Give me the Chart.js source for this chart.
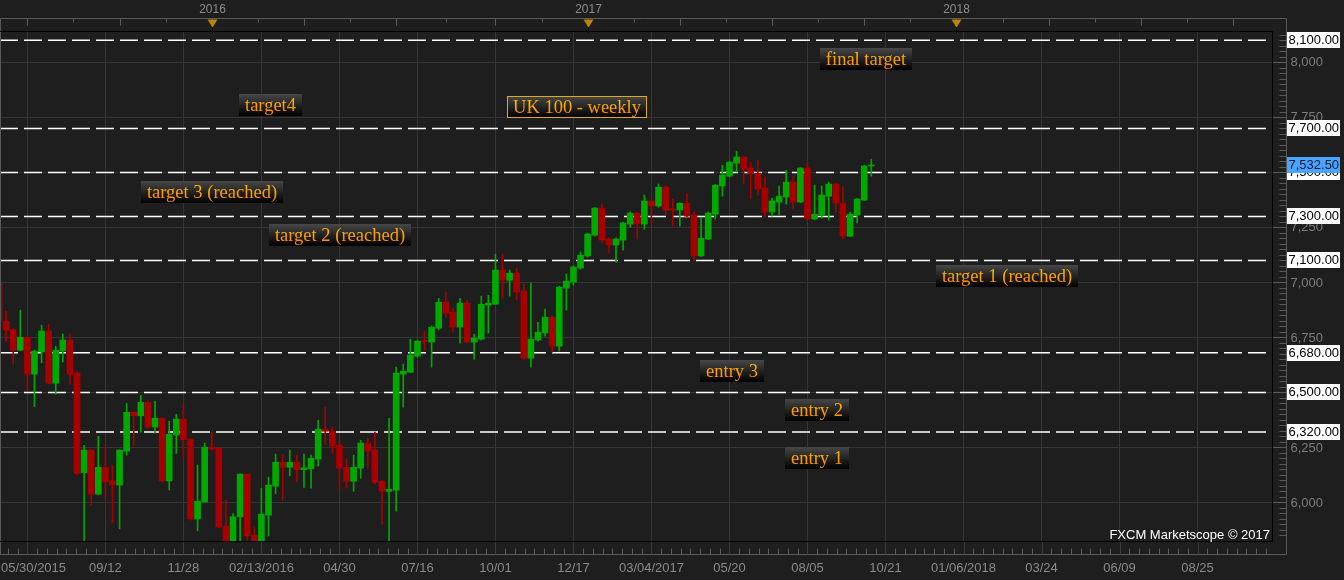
<!DOCTYPE html>
<html>
<head>
<meta charset="utf-8">
<title>UK 100 - weekly</title>
<script src="https://cdn.jsdelivr.net/npm/chart.js@4.4.0/dist/chart.umd.min.js"></script>
<style>
  html, body { margin: 0; padding: 0; background: #1e1e1e; }
  canvas { display: block; }
</style>
</head>
<body>
<canvas id="ukChart" width="1344" height="580"></canvas>
<script>
// weekly candles, week 0 = 05/30/2015
const openVals = [
  6995, 6824, 6786, 6692, 6751, 6583, 6684, 6779, 6542, 6689,
  6738, 6589, 6135, 6238, 6038, 6160, 6097, 6079, 6233, 6410,
  6394, 6455, 6343, 6383, 6098, 6307, 6379, 6288, 5925, 6003,
  6251, 6247, 5893, 5800, 5935, 6129, 5851, 5707, 5942, 6074,
  6183, 6160, 6183, 6149, 6153, 6197, 6333, 6324, 6260, 6160,
  6097, 6156, 6270, 6238, 6097, 6051, 6056, 6583, 6592, 6665,
  6735, 6729, 6792, 6910, 6865, 6797, 6906, 6729, 6742, 6897,
  6901, 7056, 7010, 7042, 6960, 6656, 6738, 6770, 6842, 6710,
  6974, 7001, 7065, 7120, 7215, 7338, 7197, 7170, 7192, 7265,
  7315, 7265, 7370, 7347, 7433, 7333, 7329, 7360, 7306, 7120,
  7197, 7310, 7438, 7483, 7542, 7570, 7520, 7497, 7429, 7320,
  7365, 7388, 7456, 7365, 7520, 7288, 7306, 7392, 7447, 7360,
  7210, 7306, 7374, 7529
];
const highVals = [
  7010, 6869, 6790, 6874, 6755, 6692, 6806, 6810, 6710, 6765,
  6765, 6595, 6260, 6242, 6301, 6260, 6170, 6240, 6451, 6412,
  6487, 6462, 6460, 6385, 6369, 6401, 6447, 6290, 6170, 6270,
  6320, 6250, 6010, 5950, 6130, 6130, 5888, 6065, 6115, 6220,
  6215, 6238, 6215, 6220, 6215, 6374, 6433, 6342, 6283, 6197,
  6215, 6283, 6292, 6320, 6100, 6383, 6615, 6629, 6742, 6738,
  6779, 6802, 6928, 6956, 6883, 6928, 6920, 6765, 6938, 6942,
  7129, 7129, 7056, 7065, 6992, 6997, 6819, 6879, 6847, 6982,
  7038, 7075, 7138, 7224, 7340, 7356, 7201, 7201, 7274, 7320,
  7320, 7397, 7372, 7447, 7438, 7379, 7362, 7406, 7320, 7297,
  7320, 7445, 7533, 7551, 7597, 7572, 7547, 7556, 7479, 7383,
  7438, 7510, 7483, 7522, 7547, 7442, 7438, 7456, 7450, 7433,
  7320, 7381, 7533, 7560
];
const lowVals = [
  6815, 6730, 6629, 6690, 6507, 6435, 6635, 6540, 6492, 6639,
  6538, 6125, 5770, 5988, 6035, 6021, 5907, 5880, 6215, 6260,
  6320, 6338, 6315, 6094, 6057, 6223, 6202, 5920, 5871, 6000,
  6238, 5885, 5770, 5660, 5790, 5790, 5500, 5700, 5848, 6039,
  6012, 6121, 6094, 6069, 6065, 6165, 6265, 6224, 6056, 6065,
  6051, 6110, 6156, 6083, 5901, 5790, 5960, 6433, 6590, 6660,
  6692, 6615, 6785, 6842, 6774, 6724, 6725, 6651, 6738, 6770,
  6900, 6929, 6938, 6920, 6650, 6615, 6733, 6756, 6683, 6688,
  6874, 6988, 7060, 7115, 7210, 7179, 7133, 7092, 7147, 7251,
  7197, 7242, 7265, 7342, 7306, 7256, 7256, 7299, 7097, 7118,
  7195, 7288, 7392, 7479, 7501, 7447, 7379, 7397, 7297, 7301,
  7306, 7356, 7333, 7362, 7285, 7285, 7292, 7283, 7320, 7197,
  7208, 7270, 7372, 7483
];
const closeVals = [
  6821, 6783, 6692, 6751, 6583, 6688, 6779, 6542, 6692, 6738,
  6583, 6132, 6238, 6038, 6160, 6094, 6079, 6238, 6410, 6394,
  6455, 6343, 6383, 6098, 6310, 6379, 6285, 5925, 6006, 6251,
  6242, 5889, 5804, 5935, 6129, 5848, 5707, 5947, 6079, 6183,
  6160, 6183, 6149, 6158, 6201, 6333, 6324, 6256, 6156, 6097,
  6160, 6270, 6233, 6092, 6051, 6060, 6588, 6597, 6670, 6733,
  6731, 6797, 6910, 6860, 6797, 6906, 6729, 6747, 6901, 6906,
  7056, 7010, 7042, 6956, 6656, 6742, 6774, 6842, 6710, 6979,
  7006, 7070, 7124, 7220, 7338, 7192, 7170, 7197, 7270, 7315,
  7265, 7370, 7348, 7433, 7329, 7329, 7360, 7301, 7120, 7201,
  7315, 7442, 7488, 7547, 7570, 7515, 7497, 7424, 7320, 7370,
  7392, 7456, 7365, 7520, 7288, 7310, 7397, 7447, 7360, 7210,
  7310, 7379, 7529, 7532.5
];

// horizontal target / entry levels
const levelVals = [8100, 7700, 7500, 7300, 7100, 6680, 6500, 6320];
const lastPrice = 7532.5;

// text notes, anchored at [week, price]
const noteTexts = ['target4', 'target 3 (reached)', 'target 2 (reached)', 'final target',
  'target 1 (reached)', 'entry 3', 'entry 2', 'entry 1'];
const noteWeeks = [38.3, 30.0, 48.1, 122.3, 142.2, 103.4, 115.4, 115.4];
const noteVals = [7806, 7410, 7215, 8015, 7029, 6597, 6420, 6202];
const titleText = 'UK 100 - weekly';
const titleWeek = 81.5;
const titleVal = 7799;

// axes
const xTickWeeks = [0, 15, 26, 37, 48, 59, 70, 81, 92, 103, 114, 125, 136, 147, 158, 169];
const xTickLabels = ['05/30/2015', '09/12', '11/28', '02/13/2016', '04/30', '07/16', '10/01', '12/17',
  '03/04/2017', '05/20', '08/05', '10/21', '01/06/2018', '03/24', '06/09', '08/25'];
const xGridWeeks = [4, 15, 26, 37, 48, 59, 70, 81, 92, 103, 114, 125, 136, 147, 158, 169];
const yTickVals = [6000, 6250, 6500, 6750, 7000, 7250, 7500, 7750, 8000];
const yTickLabels = ['6,000', '6,250', '6,500', '6,750', '7,000', '7,250', '7,500', '7,750', '8,000'];
const yearLabels = ['2016', '2017', '2018'];
const yearWeeks = [30, 83, 135];
const quarterWeeks = [4, 17, 30, 43, 56, 70, 83, 96, 109, 122, 135, 148, 161, 174];

const xMin = 0.14, xMax = 179.5, yMin = 5825, yMax = 8138;
const upColor = '#00a800', downColor = '#a80000';

const candleColor = ctx => closeVals[ctx.dataIndex] >= openVals[ctx.dataIndex] ? upColor : downColor;
const fmt = v => v.toLocaleString('en-US', { minimumFractionDigits: 2, maximumFractionDigits: 2 });

const decor = {
  id: 'decor',
  beforeDraw(chart) {
    const ctx = chart.ctx;
    ctx.save();
    ctx.fillStyle = '#1e1e1e';
    ctx.fillRect(0, 0, chart.width, chart.height);
    ctx.restore();
  },
  afterDatasetsDraw(chart) {
    const ctx = chart.ctx, xs = chart.scales.x, ys = chart.scales.y;
    ctx.save();
    ctx.font = '18.5px "Liberation Serif"';
    ctx.textAlign = 'center';
    ctx.textBaseline = 'middle';
    const drawNote = (t, wk, val, framed) => {
      const cx = xs.getPixelForValue(wk), cy = ys.getPixelForValue(val);
      const w = Math.round(ctx.measureText(t).width + 12), h = 22;
      const left = Math.round(cx - w / 2), top = Math.round(cy - h / 2);
      const g = ctx.createLinearGradient(0, top, 0, top + h);
      g.addColorStop(0, '#474747');
      g.addColorStop(1, '#000000');
      ctx.fillStyle = g;
      ctx.fillRect(left, top, w, h);
      if (framed) {
        ctx.strokeStyle = '#e0a820';
        ctx.lineWidth = 1;
        ctx.strokeRect(left + 0.5, top + 0.5, w - 1, h - 1);
      }
      const tg = ctx.createLinearGradient(0, top + 4, 0, top + h - 4);
      tg.addColorStop(0, '#ffb800');
      tg.addColorStop(1, '#ff8800');
      ctx.fillStyle = tg;
      ctx.fillText(t, left + w / 2, top + h / 2 + 1);
    };
    noteTexts.forEach((t, k) => drawNote(t, noteWeeks[k], noteVals[k], false));
    drawNote(titleText, titleWeek, titleVal, true);
    ctx.restore();
  },
  afterDraw(chart) {
    const ctx = chart.ctx, xs = chart.scales.x, ys = chart.scales.y;
    const a = chart.chartArea;
    const frameR = a.right + 14.5, frameT = 18.5, frameB = a.bottom + 13.5;
    ctx.save();

    // outer axis frame
    ctx.strokeStyle = '#5a5a5a';
    ctx.lineWidth = 1;
    ctx.beginPath();
    ctx.moveTo(0.5, frameB); ctx.lineTo(0.5, frameT); ctx.lineTo(frameR, frameT);
    ctx.lineTo(frameR, frameB); ctx.lineTo(0, frameB);
    ctx.stroke();

    // plot border
    ctx.strokeStyle = '#000000';
    ctx.beginPath();
    ctx.moveTo(0, a.top - 0.5); ctx.lineTo(a.right + 0.5, a.top - 0.5);
    ctx.lineTo(a.right + 0.5, a.bottom + 0.5); ctx.lineTo(0, a.bottom + 0.5);
    ctx.stroke();

    // top strip ticks
    ctx.strokeStyle = '#5a5a5a';
    ctx.beginPath();
    quarterWeeks.forEach((q, k) => {
      const px = Math.round(xs.getPixelForValue(q)) + 0.5;
      if (px < a.right) { ctx.moveTo(px, frameT); ctx.lineTo(px, frameT + 7); }
      if (k < quarterWeeks.length - 1) {
        const mx = Math.round(xs.getPixelForValue((q + quarterWeeks[k + 1]) / 2)) + 0.5;
        if (mx < a.right) { ctx.moveTo(mx, frameT); ctx.lineTo(mx, frameT + 4); }
      }
    });
    ctx.stroke();

    // bottom strip ticks
    ctx.beginPath();
    for (let w = xGridWeeks[0] - 11; w < xMax; w += 11 / 8) {
      const px = Math.round(xs.getPixelForValue(w)) + 0.5;
      if (px < 1 || px > a.right) continue;
      ctx.moveTo(px, frameB); ctx.lineTo(px, frameB - 6);
    }
    ctx.stroke();
    ctx.strokeStyle = '#3a3a3a';
    ctx.beginPath();
    xGridWeeks.forEach(w => {
      const px = Math.round(xs.getPixelForValue(w)) + 0.5;
      ctx.moveTo(px, a.bottom + 1); ctx.lineTo(px, frameB);
    });
    ctx.stroke();

    // right strip ticks
    ctx.strokeStyle = '#5a5a5a';
    ctx.beginPath();
    for (let v = 5850; v < yMax; v += 25) {
      const py = Math.round(ys.getPixelForValue(v)) + 0.5;
      const major = v % 250 === 0;
      ctx.moveTo(major ? a.right + 1 : frameR - 7, py); ctx.lineTo(frameR, py);
    }
    ctx.stroke();

    // bottom labels
    ctx.font = '13px "Liberation Sans"';
    ctx.fillStyle = '#8a8a8a';
    ctx.textBaseline = 'middle';
    xTickWeeks.forEach((w, k) => {
      const px = xs.getPixelForValue(w);
      if (k === 0) { ctx.textAlign = 'left'; ctx.fillText(xTickLabels[k], 1, 568); }
      else { ctx.textAlign = 'center'; ctx.fillText(xTickLabels[k], px, 568); }
    });

    // right labels
    ctx.textAlign = 'left';
    ctx.fillStyle = '#7c7c7c';
    yTickVals.forEach((v, k) => ctx.fillText(yTickLabels[k], frameR + 4, ys.getPixelForValue(v) + 0.5));

    // level boxes
    ctx.font = '13px "Liberation Sans"';
    levelVals.forEach(v => {
      const py = Math.round(ys.getPixelForValue(v));
      ctx.fillStyle = '#ffffff';
      ctx.fillRect(frameR + 0.5, py - 8, 53, 16);
      ctx.fillStyle = '#000000';
      ctx.fillText(fmt(v), frameR + 2, py + 0.5);
    });
    const lp = Math.round(ys.getPixelForValue(lastPrice));
    ctx.fillStyle = '#4aa3ff';
    ctx.fillRect(frameR + 0.5, lp - 8, 53, 16);
    ctx.fillStyle = '#0b1a33';
    ctx.fillText(fmt(lastPrice), frameR + 2, lp + 0.5);

    // year markers on top strip
    ctx.font = '12px "Liberation Sans"';
    ctx.textAlign = 'center';
    yearWeeks.forEach((w, k) => {
      const px = Math.round(xs.getPixelForValue(w)) + 0.5;
      ctx.fillStyle = '#8a8a8a';
      ctx.fillText(yearLabels[k], px, 10);
      ctx.fillStyle = '#b8860b';
      ctx.beginPath();
      ctx.moveTo(px - 5, frameT + 1); ctx.lineTo(px + 5, frameT + 1); ctx.lineTo(px, frameT + 9);
      ctx.closePath();
      ctx.fill();
      ctx.strokeStyle = '#000000';
      ctx.beginPath();
      ctx.moveTo(px, frameT + 9); ctx.lineTo(px, a.top + 1);
      ctx.stroke();
    });

    // watermark
    ctx.font = '13px "Liberation Sans"';
    ctx.textAlign = 'right';
    ctx.fillStyle = '#ffffff';
    ctx.fillText('FXCM Marketscope \u00a9 2017', a.right - 2, a.bottom - 6);
    ctx.restore();
  }
};

const weeks = openVals.map((_, i) => i);

const levelSets = levelVals.map(v => ({
  type: 'line',
  data: [{ x: xMin, y: v }, { x: 178.7, y: v }],
  borderColor: '#ffffff',
  borderWidth: 1.5,
  borderDash: [18, 6],
  pointRadius: 0,
  clip: 0,
  order: 10
}));

new Chart(document.getElementById('ukChart'), {
  type: 'bar',
  data: {
    datasets: [
      ...levelSets,
      {
        label: 'wick',
        data: weeks.map(i => ({ x: i, y: [lowVals[i], highVals[i]] })),
        backgroundColor: candleColor,
        barThickness: 1,
        grouped: false,
        clip: 0,
        order: 3
      },
      {
        label: 'body',
        data: weeks.map(i => ({ x: i, y: [openVals[i], closeVals[i]] })),
        backgroundColor: candleColor,
        barThickness: 6,
        minBarLength: 1,
        grouped: false,
        clip: 0,
        order: 2
      }
    ]
  },
  options: {
    responsive: false,
    animation: false,
    layout: { padding: { left: 0, right: 72, top: 32, bottom: 39 } },
    plugins: { legend: { display: false }, tooltip: { enabled: false } },
    scales: {
      x: {
        type: 'linear',
        position: 'bottom',
        min: xMin,
        max: xMax,
        offset: false,
        afterBuildTicks: s => { s.ticks = xGridWeeks.map(v => ({ value: v })); },
        ticks: { display: false },
        grid: { color: '#353535', drawTicks: false, offset: false },
        border: { display: false }
      },
      y: {
        type: 'linear',
        position: 'right',
        min: yMin,
        max: yMax,
        afterBuildTicks: s => { s.ticks = yTickVals.map(v => ({ value: v })); },
        ticks: { display: false },
        grid: { color: '#353535', drawTicks: false },
        border: { display: false }
      }
    }
  },
  plugins: [decor]
});
</script>
</body>
</html>
